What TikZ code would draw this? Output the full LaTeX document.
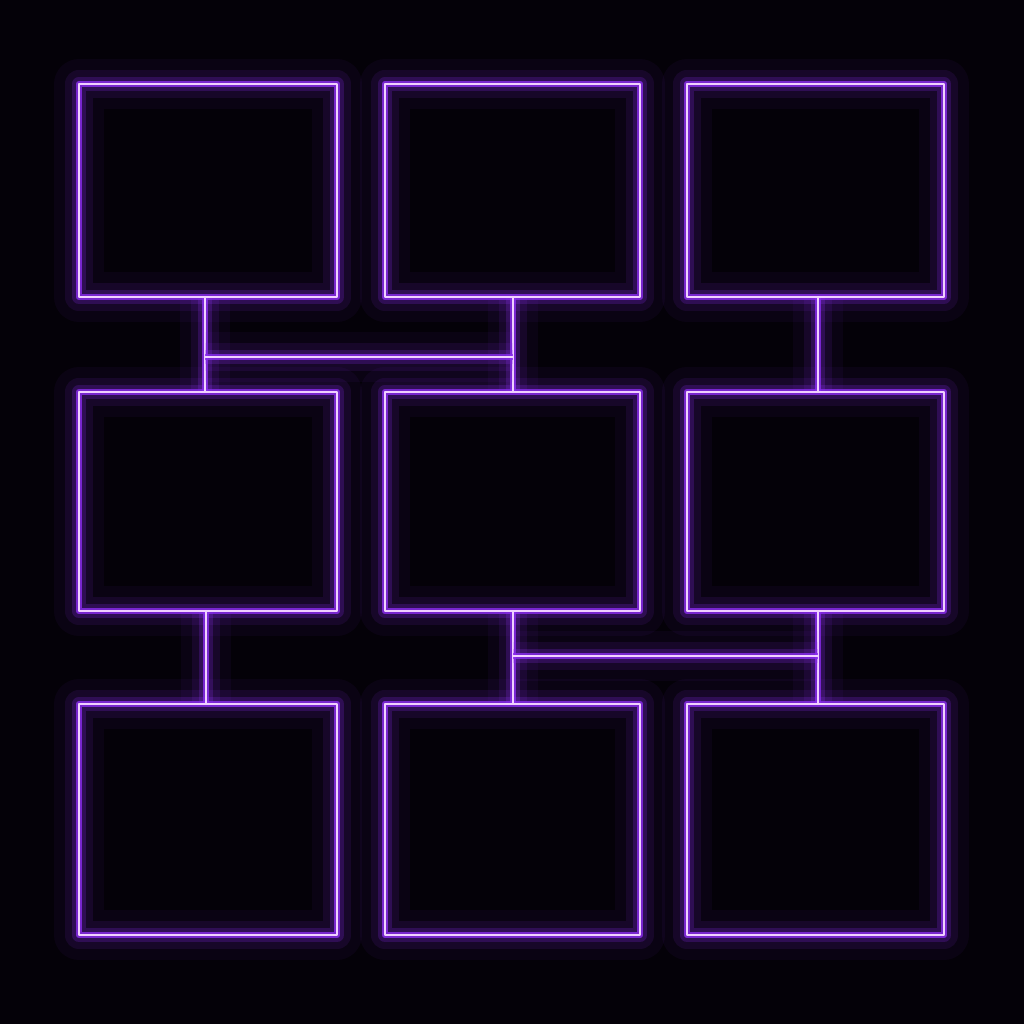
\documentclass[tikz,border=0pt]{standalone}
\usetikzlibrary{positioning}

\definecolor{bgdark}{HTML}{040108}
\definecolor{neonglow}{HTML}{8B2EF0}
\definecolor{neoncore}{HTML}{F0D0FF}

\begin{document}
\begin{tikzpicture}[
    x=0.01cm, y=-0.01cm,
    neon/.style={draw=neoncore, line width=0.7pt, line join=round,
        preaction={draw=neonglow, line width=1.8pt, opacity=0.8, line join=round},
        preaction={draw=neonglow, line width=4pt, opacity=0.22, line join=round},
        preaction={draw=neonglow, line width=8pt, opacity=0.1, line join=round},
        preaction={draw=neonglow, line width=14pt, opacity=0.05, line join=round}},
    panel/.style={rectangle, neon, inner sep=0pt},
    link/.style={neon}
]

% background
\fill[bgdark] (0,0) rectangle (1024,1024);
\useasboundingbox (0,0) rectangle (1024,1024);

% row 1
\node (b11) [panel, minimum width=2.58cm, minimum height=2.13cm] at (208,190.5) {};
\node (b12) [panel, minimum width=2.55cm, minimum height=2.13cm] at (512.5,190.5) {};
\node (b13) [panel, minimum width=2.57cm, minimum height=2.13cm] at (815.5,190.5) {};

% row 2
\node (b21) [panel, minimum width=2.58cm, minimum height=2.19cm] at (208,501.5) {};
\node (b22) [panel, minimum width=2.55cm, minimum height=2.19cm] at (512.5,501.5) {};
\node (b23) [panel, minimum width=2.57cm, minimum height=2.19cm] at (815.5,501.5) {};

% row 3
\node (b31) [panel, minimum width=2.58cm, minimum height=2.31cm] at (208,819.5) {};
\node (b32) [panel, minimum width=2.55cm, minimum height=2.31cm] at (512.5,819.5) {};
\node (b33) [panel, minimum width=2.57cm, minimum height=2.31cm] at (815.5,819.5) {};

% junctions
\coordinate (j1) at (205,357);
\coordinate (j2) at (513,357);
\coordinate (j3) at (818,345);
\coordinate (j4) at (206,657);
\coordinate (j5) at (513,656);
\coordinate (j6) at (818,656);

% links
\draw [link] (b11.south -| j1) -- (b21.north -| j1);
\draw [link] (b12.south -| j2) -- (b22.north -| j2);
\draw [link] (j1) -- (j2);
\draw [link] (b13.south -| j3) -- (b23.north -| j3);
\draw [link] (b21.south -| j4) -- (b31.north -| j4);
\draw [link] (b22.south -| j5) -- (b32.north -| j5);
\draw [link] (b23.south -| j6) -- (b33.north -| j6);
\draw [link] (j5) -- (j6);

\end{tikzpicture}
\end{document}
